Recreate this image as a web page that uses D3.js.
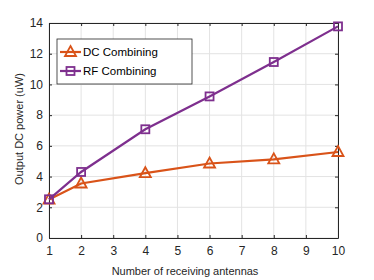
<!DOCTYPE html>
<html>
<head>
<meta charset="utf-8">
<script src="https://cdn.jsdelivr.net/npm/d3@7"></script>
<style>
  body { margin: 0; background: #fff; }
  svg { display: block; font-family: "Liberation Sans", Arial, sans-serif; }
  .grid line { stroke: #e3e3e3; stroke-width: 1; }
  .axis path, .axis line { stroke: #262626; }
  .axis text { fill: #262626; font-size: 12px; }
</style>
</head>
<body>
<svg id="chart" width="374" height="280"></svg>
<script>
// data
const antennas = [1, 2, 4, 6, 8, 10];
const dcCombining = [2.5, 3.55, 4.22, 4.85, 5.12, 5.6];
const rfCombining = [2.52, 4.3, 7.08, 9.22, 11.46, 13.78];
const xTicks = [1, 2, 3, 4, 5, 6, 7, 8, 9, 10];
const yTicks = [0, 2, 4, 6, 8, 10, 12, 14];

const seriesList = [
  {name: 'DC Combining', values: dcCombining, color: '#D95319', marker: 'triangle'},
  {name: 'RF Combining', values: rfCombining, color: '#7E2F8E', marker: 'square'},
];

const margin = {left: 49, right: 36, top: 23, bottom: 42};
const width = 374 - margin.left - margin.right;
const height = 280 - margin.top - margin.bottom;

const svg = d3.select('#chart');
const g = svg.append('g')
  .attr('transform', 'translate(' + margin.left + ',' + margin.top + ')');

const x = d3.scaleLinear().domain([1, 10]).range([0, width]);
const y = d3.scaleLinear().domain([0, 14]).range([height, 0]);

// grid
g.append('g').attr('class', 'grid')
  .selectAll('line').data(xTicks).join('line')
  .attr('x1', d => x(d)).attr('x2', d => x(d))
  .attr('y1', 0).attr('y2', height);
g.append('g').attr('class', 'grid')
  .selectAll('line').data(yTicks).join('line')
  .attr('x1', 0).attr('x2', width)
  .attr('y1', d => y(d)).attr('y2', d => y(d));

// axes (matlab style: inward ticks, box on)
g.append('g').attr('class', 'axis')
  .attr('transform', 'translate(0,' + height + ')')
  .call(d3.axisBottom(x).tickValues(xTicks).tickSizeInner(-3).tickSizeOuter(0).tickPadding(8));
g.append('g').attr('class', 'axis')
  .call(d3.axisLeft(y).tickValues(yTicks).tickSizeInner(-3).tickSizeOuter(0).tickPadding(6));
g.append('g').attr('class', 'axis')
  .call(d3.axisTop(x).tickValues(xTicks).tickSizeInner(-3).tickSizeOuter(0).tickFormat(''));
g.append('g').attr('class', 'axis')
  .attr('transform', 'translate(' + width + ',0)')
  .call(d3.axisRight(y).tickValues(yTicks).tickSizeInner(-3).tickSizeOuter(0).tickFormat(''));

// axis labels
svg.append('text')
  .attr('x', 185).attr('y', 275)
  .attr('text-anchor', 'middle')
  .style('font-size', '11px').style('fill', '#262626')
  .text('Number of receiving antennas');
svg.append('text')
  .attr('transform', 'translate(23,129) rotate(-90)')
  .attr('text-anchor', 'middle')
  .style('font-size', '11px').style('fill', '#262626')
  .text('Output DC power (uW)');

const line = d3.line()
  .x((d, i) => x(antennas[i]))
  .y(d => y(d));

function drawMarker(sel, type, color) {
  if (type === 'square') {
    sel.append('rect')
      .attr('x', -4).attr('y', -4).attr('width', 8).attr('height', 8)
      .attr('fill', 'none').attr('stroke', color).attr('stroke-width', 1.8);
  } else {
    sel.append('path')
      .attr('d', 'M0,-6L5.5,4L-5.5,4Z')
      .attr('fill', 'none').attr('stroke', color).attr('stroke-width', 1.8)
      .attr('stroke-linejoin', 'miter');
  }
}

for (const s of seriesList) {
  g.append('path')
    .datum(s.values)
    .attr('fill', 'none')
    .attr('stroke', s.color)
    .attr('stroke-width', 2.2)
    .attr('d', line);
  g.selectAll(null).data(s.values).join('g')
    .attr('transform', (d, i) => 'translate(' + x(antennas[i]) + ',' + y(d) + ')')
    .each(function () { drawMarker(d3.select(this), s.marker, s.color); });
}

// legend
const legend = svg.append('g').attr('transform', 'translate(57,39)');
legend.append('rect')
  .attr('width', 135).attr('height', 45)
  .attr('fill', '#fff').attr('stroke', '#262626').attr('stroke-width', 0.8);
seriesList.forEach((s, i) => {
  const row = legend.append('g').attr('transform', 'translate(0,' + (13 + i * 19) + ')');
  row.append('line')
    .attr('x1', 3).attr('x2', 24).attr('y1', 0).attr('y2', 0)
    .attr('stroke', s.color).attr('stroke-width', 2.2);
  drawMarker(row.append('g').attr('transform', 'translate(13.5,0)'), s.marker, s.color);
  row.append('text')
    .attr('x', 26).attr('y', 4)
    .style('font-size', '11.5px').style('fill', '#000')
    .text(s.name);
});
</script>
</body>
</html>
